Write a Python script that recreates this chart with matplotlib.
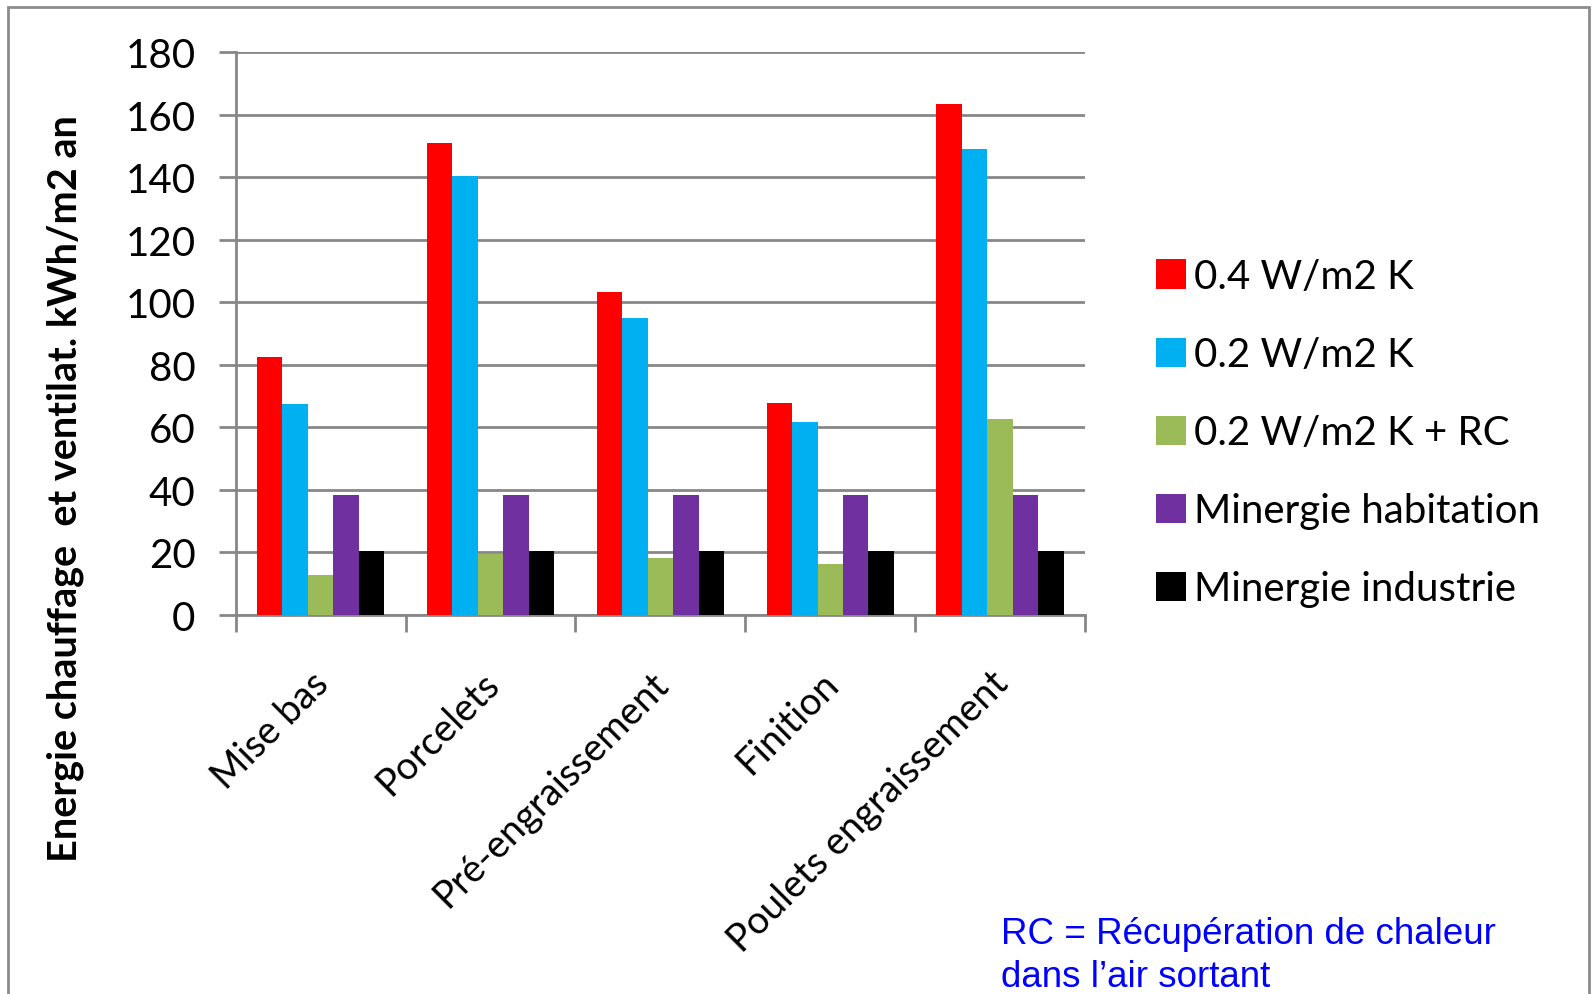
import numpy as np
import matplotlib.pyplot as plt
from matplotlib.patches import Rectangle

plt.rcParams['font.family'] = ['Lato', 'DejaVu Sans']

categories = ['Mise bas', 'Porcelets', 'Pré-engraissement', 'Finition', 'Poulets engraissement']
series_names = ['0.4 W/m2 K', '0.2 W/m2 K', '0.2 W/m2 K + RC', 'Minergie habitation', 'Minergie industrie']
u04 = [82.5, 151.0, 103.4, 67.8, 163.6]
u02 = [67.5, 140.5, 94.9, 61.5, 148.9]
u02_rc = [12.7, 19.3, 18.0, 16.2, 62.6]
minergie_hab = [38.2, 38.2, 38.2, 38.2, 38.2]
minergie_ind = [20.3, 20.3, 20.3, 20.3, 20.3]
colors = ['#FF0000', '#00B0F0', '#9BBB59', '#7030A0', '#000000']
yticks = [0, 20, 40, 60, 80, 100, 120, 140, 160, 180]

data = [u04, u02, u02_rc, minergie_hab, minergie_ind]

fig = plt.figure(figsize=(15.95, 9.95), dpi=100)
ax = fig.add_axes([0.1478, 0.3814, 0.5325, 0.565])

# outer frame of the chart area
fig.patches.append(Rectangle((8 / 1595, -0.05), 1581 / 1595, 1.05 - 8 / 995,
                             transform=fig.transFigure, fill=False,
                             edgecolor='#8C8C8C', linewidth=2))

x = np.arange(len(categories))
w = 0.15
for i, (vals, name, c) in enumerate(zip(data, series_names, colors)):
    ax.bar(x + (i - 2) * w, vals, w, color=c, label=name, zorder=3)

grid_c = '#878787'
ax.set_xlim(-0.5, len(categories) - 0.5)
ax.set_ylim(0, 180)
ax.set_yticks(yticks)
ax.set_yticklabels([str(v) for v in yticks], fontsize=29)
ax.yaxis.grid(True, color=grid_c, linewidth=2, zorder=0)
ax.tick_params(axis='y', length=12, width=2, color=grid_c, pad=17)

# category boundary ticks on x
ax.set_xticks(np.arange(len(categories) + 1) - 0.5)
ax.set_xticklabels([])
ax.tick_params(axis='x', length=12, width=2, color=grid_c)
for xi, lab in zip(x, categories):
    ax.text(xi - 0.06, -16, lab, rotation=45, ha='right', va='top',
            rotation_mode='anchor', fontsize=27.5)

for s in ['top', 'right']:
    ax.spines[s].set_visible(False)
for s in ['left', 'bottom']:
    ax.spines[s].set_color(grid_c)
    ax.spines[s].set_linewidth(2)

ax.set_ylabel('Energie chauffage  et ventilat. kWh/m2 an', fontsize=28.5,
              fontweight='bold')
ax.yaxis.set_label_coords(-0.179, 0.225, transform=ax.transAxes)

leg = fig.legend(loc='upper left', bbox_to_anchor=(1140 / 1595, 1 - 243 / 995),
                 frameon=False, fontsize=29, handlelength=0.74, handleheight=0.74,
                 handletextpad=0.2, labelspacing=1.02, borderaxespad=0)

fig.text(1001 / 1595, 1 - 956 / 995, 'RC = Récupération de chaleur\ndans l\u2019air sortant',
         color='#0000FF', fontsize=26.5, family=['Liberation Sans', 'DejaVu Sans'],
         ha='left', va='center', linespacing=1.3)

fig.savefig('out.png', dpi=100)
